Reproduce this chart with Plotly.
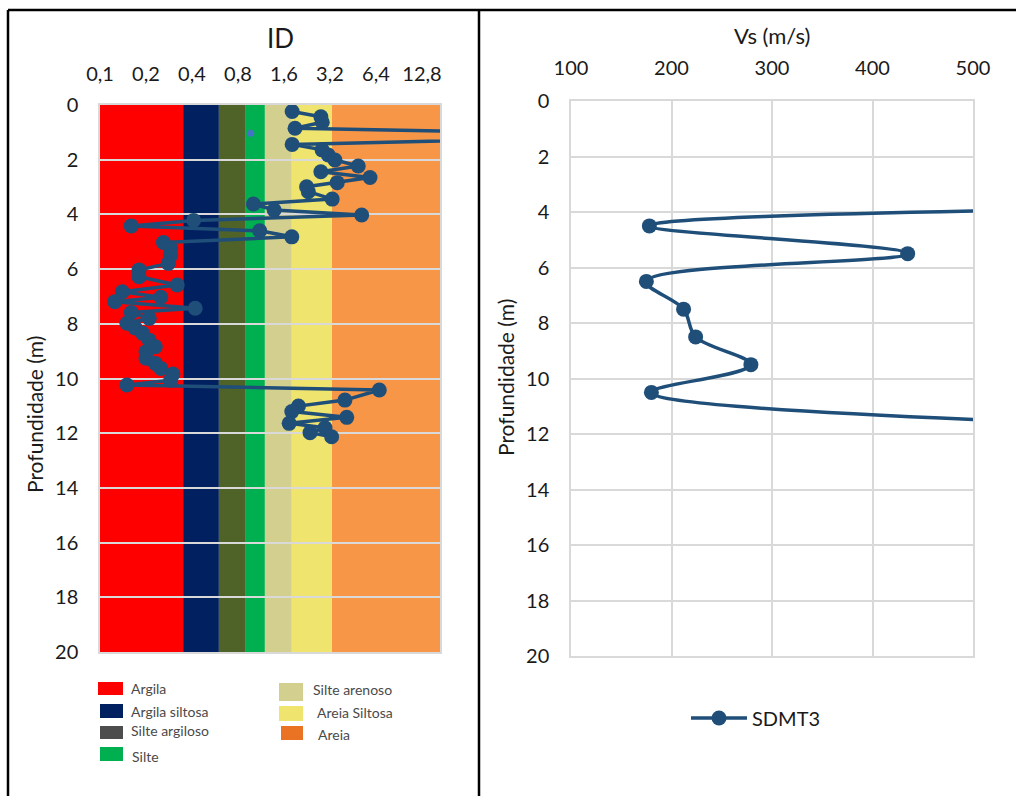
import math
import plotly.graph_objects as go

W, H = 1016, 796

# --- SDMT3: material index ID versus depth ---
id_depth = [0.24, 0.43, 0.63, 0.85, 1.11, 1.44, 1.64, 1.83, 2.01, 2.23,
            2.44, 2.65, 2.84, 2.99, 3.17, 3.44, 3.62, 3.84, 4.02, 4.22,
            4.42, 4.60, 4.82, 5.03, 5.24, 5.50, 5.79, 6.03, 6.28, 6.58,
            6.83, 7.03, 7.19, 7.43, 7.59, 7.80, 7.98, 8.15, 8.35, 8.60,
            8.84, 9.02, 9.26, 9.45, 9.63, 9.84, 10.06, 10.24, 10.42, 10.79,
            11.01, 11.21, 11.42, 11.64, 11.80, 11.98, 12.13]
id_value = [1.81, 2.79, 2.85, 1.89, 600.0, 1.81, 2.84, 3.12, 3.45, 4.90,
            2.79, 5.85, 3.57, 2.25, 2.31, 3.31, 1.01, 1.38, 5.16, 0.41,
            0.16, 1.11, 1.80, 0.26, 0.29, 0.29, 0.28, 0.18, 0.18, 0.32,
            0.14, 0.25, 0.125, 0.42, 0.16, 0.21, 0.15, 0.17, 0.19, 0.21,
            0.23, 0.20, 0.20, 0.23, 0.25, 0.30, 0.29, 0.15, 6.73, 4.01,
            1.99, 1.80, 4.12, 1.73, 2.97, 2.37, 3.28]

# isolated reading plotted in a lighter tone
extra_depth = [1.03]
extra_value = [0.97]

# --- SDMT3: shear wave velocity versus depth ---
vs_depth = [3.5, 4.5, 5.5, 6.5, 7.5, 8.5, 9.5, 10.5, 11.5]
vs_value = [2000, 178, 435, 175, 212, 224, 279, 180, 515]

# --- soil classification bands by ID ---
soil_names = ["Argila", "Argila siltosa", "Silte argiloso", "Silte",
              "Silte arenoso", "Areia Siltosa", "Areia"]
soil_bounds = [0.05, 0.35, 0.6, 0.9, 1.2, 1.8, 3.3, 100.0]
soil_colors = ["#FF0000", "#002060", "#4F6228", "#00B050",
               "#D3CF8F", "#EEE46E", "#F79646"]
key_colors = ["#FF0000", "#002060", "#4D4D4D", "#00B050",
              "#D3CF8F", "#EEE46E", "#E97323"]

id_ticks = [0.1, 0.2, 0.4, 0.8, 1.6, 3.2, 6.4, 12.8]
id_ticktext = ["0,1", "0,2", "0,4", "0,8", "1,6", "3,2", "6,4", "12,8"]
depth_ticks = list(range(0, 21, 2))
vs_ticks = [100, 200, 300, 400, 500]

LINE = "#1F4E79"
FONT = "Lato, 'Open Sans', sans-serif"
GRID = "#D9D9D9"


def fx(p):
    return p / W


def fy(p):
    return 1 - p / H


fig = go.Figure()

fig.add_trace(go.Scatter(
    x=id_value, y=id_depth, mode="lines+markers", xaxis="x", yaxis="y",
    line=dict(color=LINE, width=3.5), marker=dict(color=LINE, size=15),
    showlegend=False, name="ID"))
fig.add_trace(go.Scatter(
    x=extra_value, y=extra_depth, mode="markers", xaxis="x", yaxis="y",
    marker=dict(color="#4472C4", size=7), showlegend=False, name="ID*"))

fig.add_trace(go.Scatter(
    x=vs_value, y=vs_depth, mode="lines+markers", xaxis="x2", yaxis="y2",
    line=dict(color=LINE, width=3.5, shape="spline", smoothing=1.0),
    marker=dict(color=LINE, size=15), name="SDMT3", showlegend=True))

shapes = []
for i, c in enumerate(soil_colors):
    shapes.append(dict(type="rect", xref="x", yref="y domain",
                       x0=soil_bounds[i], x1=soil_bounds[i + 1], y0=0, y1=1,
                       fillcolor=c, line=dict(width=0), layer="below"))

# outer frame
for x0, y0, x1, y1 in [(8, 10, W, 10), (8, 10, 8, H), (479, 10, 479, H)]:
    shapes.append(dict(type="line", xref="paper", yref="paper",
                       x0=fx(x0), y0=fy(y0), x1=fx(x1), y1=fy(y1),
                       line=dict(color="black", width=2.5)))

# soil key boxes
key_boxes = [(98, 682, 123, 695), (100, 704, 123, 718), (100, 726, 123, 739),
             (100, 747, 123, 761), (279, 683, 303, 701), (279, 706, 303, 721),
             (281, 726, 303, 740)]
for (x0, y0, x1, y1), c in zip(key_boxes, key_colors):
    shapes.append(dict(type="rect", xref="paper", yref="paper",
                       x0=fx(x0), x1=fx(x1), y0=fy(y1), y1=fy(y0),
                       fillcolor=c, line=dict(width=0)))

annotations = [
    dict(text="ID", x=fx(280), y=fy(38), font=dict(size=26)),
    dict(text="Vs (m/s)", x=fx(772), y=fy(35), font=dict(size=22)),
    dict(text="Profundidade (m)", x=fx(35), y=fy(415), textangle=-90,
         font=dict(size=21)),
    dict(text="Profundidade (m)", x=fx(505), y=fy(378), textangle=-90,
         font=dict(size=21)),
]
key_text = [(129, 688), (129, 711), (129, 730), (130, 756),
            (311, 689), (315, 712), (316, 734)]
for name, (tx, ty) in zip(soil_names, key_text):
    annotations.append(dict(text=name, x=fx(tx), y=fy(ty), xanchor="left",
                            font=dict(size=14, color="#4A4A4A")))
for a in annotations:
    a.update(xref="paper", yref="paper", showarrow=False)
    a.setdefault("xanchor", "center")
    a["yanchor"] = "middle"
    a["font"].setdefault("color", "#1A1A1A")
    a["font"]["family"] = FONT

axis_common = dict(showline=True, mirror=True, linecolor=GRID, linewidth=1.5,
                   zeroline=False, automargin=False,
                   tickfont=dict(size=20, color="#1A1A1A", family=FONT),
                   ticks="outside", tickcolor="rgba(0,0,0,0)")

fig.update_layout(
    width=W, height=H,
    margin=dict(l=0, r=0, t=0, b=0),
    paper_bgcolor="white", plot_bgcolor="white",
    font=dict(family=FONT),
    shapes=shapes, annotations=annotations,
    xaxis=dict(type="log", range=[-1, math.log10(16.8)], side="top",
               tickvals=id_ticks, ticktext=id_ticktext, showgrid=False,
               domain=[fx(100), fx(440)], anchor="y", ticklen=14,
               **axis_common),
    yaxis=dict(range=[20, 0], tickvals=depth_ticks, showgrid=True,
               gridcolor=GRID, gridwidth=2,
               domain=[fy(652), fy(105)], anchor="x", ticklen=16,
               **axis_common),
    xaxis2=dict(range=[100, 500], side="top", tickvals=vs_ticks,
                showgrid=True, gridcolor=GRID, gridwidth=1.5,
                domain=[fx(571), fx(973)], anchor="y2", ticklen=16,
                **axis_common),
    yaxis2=dict(range=[20, 0], tickvals=depth_ticks, showgrid=True,
                gridcolor=GRID, gridwidth=1.5,
                domain=[fy(656), fy(101)], anchor="x2", ticklen=16,
                **axis_common),
    legend=dict(x=fx(686), y=fy(718), xanchor="left", yanchor="middle",
                bgcolor="rgba(0,0,0,0)", itemwidth=56,
                font=dict(size=20, color="#1A1A1A", family=FONT)),
)

fig.write_html("out.html")
